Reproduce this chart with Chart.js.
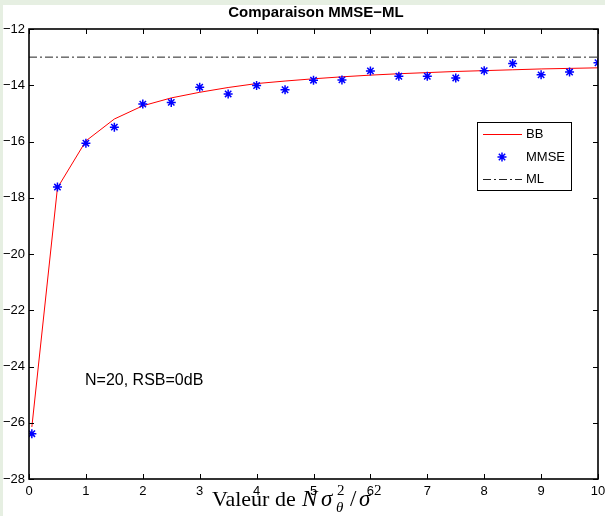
<!DOCTYPE html>
<html>
<head>
<meta charset="utf-8">
<script src="https://cdn.jsdelivr.net/npm/chart.js@4/dist/chart.umd.min.js"></script>
<style>
  html, body { margin: 0; padding: 0; background: #e6efe2; }
  #wrap { position: relative; width: 605px; height: 516px; }
</style>
</head>
<body>
<div id="wrap"><canvas id="chart" width="605" height="516"></canvas></div>
<script>
// values
const xValues = [0.05, 0.5, 1, 1.5, 2, 2.5, 3, 3.5, 4, 4.5, 5, 5.5, 6, 6.5, 7, 7.5, 8, 8.5, 9, 9.5, 10];
const bbValues = [-26.15, -17.65, -15.98, -15.2, -14.73, -14.45, -14.25, -14.08, -13.94, -13.85, -13.77,
  -13.7, -13.64, -13.59, -13.55, -13.51, -13.48, -13.45, -13.42, -13.4, -13.38];
const mmseValues = [-26.39, -17.62, -16.06, -15.49, -14.67, -14.61, -14.07, -14.31, -14.01, -14.16, -13.82,
  -13.81, -13.49, -13.68, -13.68, -13.74, -13.48, -13.23, -13.63, -13.53, -13.2];
const mlX = [0, 10];
const mlValues = [-13, -13];
const seriesLabels = ['BB', 'MMSE', 'ML'];

const toPoints = (xs, ys) => xs.map((x, i) => ({x: x, y: ys[i]}));
const minus = v => String(v).replace('-', '\u2212');
const sans = '"Liberation Sans", Arial, sans-serif';
const serif = '"Liberation Serif", "DejaVu Serif", serif';

// background, box, inward ticks, texts and legend (matlab style)
const figurePlugin = {
  id: 'figure',
  beforeDraw(chart) {
    const ctx = chart.ctx;
    ctx.save();
    ctx.fillStyle = '#e6efe2';
    ctx.fillRect(0, 0, chart.width, chart.height);
    ctx.fillStyle = '#ffffff';
    ctx.fillRect(3, 5, chart.width - 3, chart.height - 5);
    ctx.restore();
  },
  afterDraw(chart) {
    const ctx = chart.ctx;
    const {left, right, top, bottom} = chart.chartArea;
    const xs = chart.scales.x;
    const ys = chart.scales.y;

    ctx.save();
    ctx.strokeStyle = '#000';
    ctx.lineWidth = 1;
    ctx.beginPath();
    xs.ticks.forEach(t => {
      const px = Math.round(xs.getPixelForValue(t.value)) + 0.5;
      ctx.moveTo(px, bottom); ctx.lineTo(px, bottom - 5);
      ctx.moveTo(px, top); ctx.lineTo(px, top + 5);
    });
    ys.ticks.forEach(t => {
      const py = Math.round(ys.getPixelForValue(t.value)) + 0.5;
      ctx.moveTo(left, py); ctx.lineTo(left + 5, py);
      ctx.moveTo(right, py); ctx.lineTo(right - 5, py);
    });
    ctx.stroke();

    ctx.lineWidth = 1.6;
    ctx.strokeRect(left, top, right - left, bottom - top);

    // title
    ctx.fillStyle = '#000';
    ctx.font = 'bold 15px ' + sans;
    ctx.textAlign = 'center';
    ctx.textBaseline = 'middle';
    ctx.fillText('Comparaison MMSE\u2212ML', 316, 13);

    // annotation
    ctx.font = '16px ' + sans;
    ctx.textAlign = 'left';
    ctx.fillText('N=20, RSB=0dB', 85, 381);

    // x label with math
    const base = 506;
    ctx.textBaseline = 'alphabetic';
    const put = (txt, font, x, dy) => {
      ctx.font = font;
      ctx.fillText(txt, x, base + (dy || 0));
    };
    put('Valeur de', '22px ' + serif, 212);
    put('N', 'italic 23px ' + serif, 302);
    put('\u03c3', 'italic 23px ' + serif, 321);
    put('2', '15px ' + serif, 337, -11);
    put('\u03b8', 'italic 15px ' + serif, 336, 6);
    put('/', '23px ' + serif, 350);
    put('\u03c3', 'italic 23px ' + serif, 359);
    put('2', '15px ' + serif, 374, -11);

    // legend
    const lx = 477, ly = 122, lw = 94, lh = 68;
    ctx.fillStyle = '#fff';
    ctx.fillRect(lx, ly, lw, lh);
    ctx.lineWidth = 1;
    ctx.strokeStyle = '#000';
    ctx.strokeRect(lx + 0.5, ly + 0.5, lw, lh);
    const rows = [134, 157, 179];
    ctx.font = '13px ' + sans;
    ctx.textBaseline = 'middle';
    chart.data.datasets.forEach((ds, i) => {
      const y = rows[i];
      ctx.save();
      if (ds.showLine === false) {
        ctx.strokeStyle = ds.borderColor;
        ctx.fillStyle = ds.borderColor;
        ctx.lineWidth = ds.borderWidth;
        Chart.helpers.drawPoint(ctx, {pointStyle: ds.pointStyle, radius: ds.pointRadius, borderWidth: ds.borderWidth}, 502, y);
      } else {
        ctx.strokeStyle = ds.borderColor;
        ctx.lineWidth = ds.borderWidth;
        ctx.setLineDash(ds.borderDash || []);
        ctx.beginPath();
        ctx.moveTo(483, y + 0.5);
        ctx.lineTo(522, y + 0.5);
        ctx.stroke();
      }
      ctx.restore();
      ctx.fillStyle = '#000';
      ctx.fillText(ds.label, 526, y);
    });
    ctx.restore();
  }
};

new Chart(document.getElementById('chart').getContext('2d'), {
  type: 'scatter',
  data: {
    datasets: [
      {
        label: seriesLabels[0],
        data: toPoints(xValues, bbValues),
        showLine: true,
        borderColor: '#ff0000',
        backgroundColor: '#ff0000',
        borderWidth: 1,
        pointRadius: 0,
        order: 2
      },
      {
        label: seriesLabels[1],
        data: toPoints(xValues, mmseValues),
        showLine: false,
        pointStyle: 'star',
        pointRadius: 4.5,
        borderColor: '#0000ff',
        backgroundColor: '#0000ff',
        borderWidth: 1.5,
        order: 1
      },
      {
        label: seriesLabels[2],
        data: toPoints(mlX, mlValues),
        showLine: true,
        borderColor: '#222222',
        borderWidth: 1,
        borderDash: [8, 3, 2, 3],
        pointRadius: 0,
        order: 3
      }
    ]
  },
  options: {
    responsive: false,
    animation: false,
    layout: {
      padding: {top: 29, right: 7, bottom: 0, left: 0}
    },
    scales: {
      x: {
        type: 'linear',
        min: 0,
        max: 10,
        afterFit: scale => {
          scale.height = 37;
          scale.paddingRight = 0;
          scale.paddingLeft = 0;
        },
        grid: {display: false, drawTicks: false},
        border: {display: false},
        ticks: {
          stepSize: 1,
          padding: 5,
          color: '#000',
          font: {family: sans, size: 13},
          maxRotation: 0
        }
      },
      y: {
        min: -28,
        max: -12,
        afterFit: scale => {
          scale.width = 29;
          scale.paddingTop = 0;
          scale.paddingBottom = 0;
        },
        grid: {display: false, drawTicks: false},
        border: {display: false},
        ticks: {
          stepSize: 2,
          padding: 4,
          color: '#000',
          font: {family: sans, size: 13},
          callback: v => minus(v)
        }
      }
    },
    plugins: {
      legend: {display: false},
      tooltip: {enabled: false},
      title: {display: false}
    }
  },
  plugins: [figurePlugin]
});
</script>
</body>
</html>
